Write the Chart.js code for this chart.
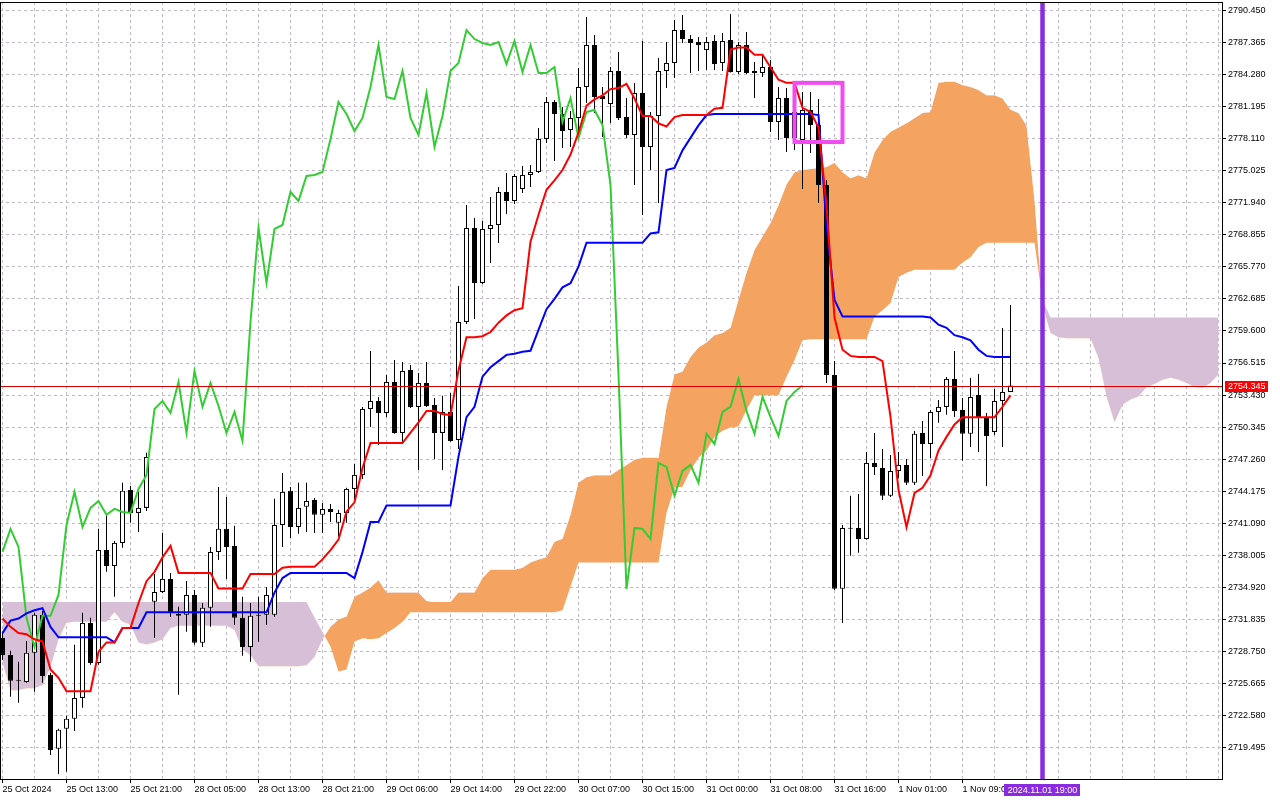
<!DOCTYPE html>
<html>
<head>
<meta charset="utf-8">
<title>XAUUSD H1 Ichimoku</title>
<script src="https://cdn.jsdelivr.net/npm/chart.js@4.4.1/dist/chart.umd.min.js"></script>
<style>
  html, body { margin: 0; padding: 0; background: #ffffff; overflow: hidden; }
  canvas { display: block; }
</style>
</head>
<body>
<canvas id="ichimokuChart" width="1280" height="800"></canvas>
<script>
// --- 1. DATA (H1 bars, index 0 = 25 Oct 05:00) ---
const opens = [
  2730.04, 2728.40, 2726.00, 2725.80, 2728.60, 2732.26, 2726.48, 2719.35, 2721.28, 2722.24,
  2724.26, 2731.48, 2727.63, 2738.51, 2736.97, 2739.19, 2744.29, 2742.08, 2742.56, 2733.51,
  2734.47, 2735.72, 2732.35, 2732.26, 2734.18, 2729.56, 2732.93, 2738.32, 2740.54, 2738.90,
  2731.97, 2729.17, 2732.26, 2732.26, 2732.26, 2740.92, 2744.20, 2740.73, 2742.66, 2743.33,
  2741.89, 2742.46, 2741.12, 2742.08, 2744.39, 2745.74, 2752.09, 2752.86, 2751.71, 2754.69,
  2749.78, 2755.85, 2752.29, 2754.60, 2752.48, 2749.78, 2751.80, 2749.11, 2760.47, 2769.52,
  2764.23, 2769.43, 2769.81, 2772.99, 2772.12, 2773.28, 2774.63, 2774.92, 2778.09, 2781.66,
  2780.50, 2778.96, 2780.12, 2783.10, 2787.15, 2782.24, 2781.46, 2784.64, 2780.21, 2778.48,
  2782.52, 2777.32, 2780.31, 2784.64, 2785.41, 2788.59, 2787.72, 2787.44, 2786.66, 2787.53,
  2785.41, 2787.63, 2784.55, 2787.15, 2784.64, 2784.45, 2785.03, 2779.73, 2782.04, 2778.19,
  2778.00, 2780.89, 2779.44, 2773.66, 2755.37, 2734.76, 2740.63, 2740.63, 2739.57, 2746.89,
  2746.41, 2743.72, 2746.12, 2746.70, 2744.97, 2749.78, 2748.72, 2751.80, 2752.29, 2754.98,
  2752.00, 2749.69, 2753.44, 2751.32, 2749.88, 2752.86, 2753.73
];
const highs = [
  2730.62, 2728.79, 2727.73, 2729.75, 2732.45, 2732.64, 2726.67, 2721.28, 2722.53, 2729.37,
  2732.45, 2731.97, 2740.54, 2741.89, 2739.38, 2744.97, 2744.68, 2744.10, 2747.86, 2736.20,
  2740.15, 2736.30, 2733.03, 2735.53, 2734.66, 2733.41, 2738.80, 2744.58, 2743.62, 2740.83,
  2733.99, 2733.41, 2733.99, 2734.95, 2743.43, 2745.93, 2744.58, 2744.97, 2744.97, 2743.52,
  2743.04, 2742.94, 2742.37, 2744.49, 2746.80, 2752.29, 2757.68, 2753.25, 2755.37, 2756.81,
  2756.62, 2756.33, 2755.56, 2756.62, 2753.15, 2753.35, 2753.63, 2763.94, 2771.74, 2770.49,
  2770.20, 2772.51, 2773.47, 2774.82, 2774.72, 2775.49, 2775.59, 2779.15, 2782.14, 2781.85,
  2781.18, 2780.79, 2784.93, 2789.84, 2788.11, 2783.10, 2785.03, 2786.47, 2782.04, 2783.49,
  2787.53, 2780.69, 2785.89, 2787.44, 2789.55, 2790.04, 2788.11, 2787.92, 2787.92, 2788.11,
  2788.30, 2790.13, 2787.44, 2788.40, 2785.51, 2786.18, 2785.70, 2783.10, 2783.01, 2781.85,
  2782.62, 2782.62, 2781.95, 2774.15, 2756.72, 2740.92, 2743.72, 2743.91, 2747.95, 2749.78,
  2748.24, 2747.66, 2747.95, 2747.28, 2749.97, 2750.94, 2752.00, 2752.96, 2755.17, 2757.68,
  2753.15, 2755.08, 2755.46, 2751.71, 2754.02, 2759.89, 2762.11
];
const lows = [
  2727.92, 2724.36, 2723.78, 2725.71, 2724.84, 2725.71, 2718.77, 2716.94, 2717.14, 2721.08,
  2723.30, 2727.44, 2727.44, 2736.40, 2733.99, 2738.71, 2741.12, 2740.25, 2742.27, 2730.04,
  2734.37, 2732.06, 2724.55, 2730.62, 2729.37, 2729.17, 2731.10, 2737.55, 2735.72, 2731.29,
  2728.31, 2727.73, 2729.66, 2731.29, 2732.06, 2738.80, 2739.67, 2740.06, 2740.25, 2740.15,
  2740.15, 2741.21, 2739.77, 2741.12, 2743.33, 2745.35, 2750.36, 2748.63, 2751.32, 2749.69,
  2748.92, 2752.19, 2746.22, 2752.29, 2747.28, 2746.22, 2748.92, 2748.24, 2760.28, 2760.76,
  2764.13, 2766.15, 2768.08, 2770.87, 2771.83, 2772.89, 2773.47, 2774.82, 2777.71, 2775.98,
  2777.23, 2777.32, 2778.48, 2781.56, 2780.60, 2778.29, 2779.64, 2779.92, 2778.19, 2773.66,
  2770.78, 2775.11, 2771.93, 2783.01, 2783.97, 2787.34, 2784.45, 2784.64, 2784.74, 2784.74,
  2784.64, 2784.50, 2784.35, 2784.35, 2782.04, 2784.06, 2778.77, 2778.00, 2776.84, 2777.03,
  2773.28, 2776.75, 2771.93, 2754.60, 2734.66, 2731.48, 2737.94, 2738.23, 2739.48, 2745.74,
  2743.33, 2743.62, 2745.45, 2744.77, 2744.77, 2745.64, 2747.37, 2750.75, 2751.52, 2751.32,
  2747.09, 2748.43, 2747.95, 2744.68, 2749.59, 2748.43, 2753.73
];
const closes = [
  2728.40, 2725.90, 2725.90, 2728.60, 2732.26, 2726.38, 2719.25, 2721.18, 2722.24, 2724.26,
  2731.48, 2727.63, 2738.51, 2736.97, 2739.19, 2744.20, 2742.08, 2742.56, 2747.47, 2734.47,
  2735.72, 2732.45, 2732.16, 2734.18, 2729.56, 2732.93, 2738.32, 2740.54, 2738.80, 2731.97,
  2729.17, 2732.16, 2732.16, 2734.18, 2740.92, 2744.10, 2740.73, 2742.56, 2743.23, 2741.89,
  2742.46, 2742.17, 2742.08, 2744.39, 2745.74, 2752.09, 2752.86, 2751.71, 2754.69, 2749.78,
  2755.75, 2752.29, 2754.60, 2752.38, 2749.78, 2751.80, 2749.01, 2760.47, 2769.52, 2764.23,
  2769.43, 2769.81, 2772.99, 2772.12, 2774.53, 2774.63, 2774.92, 2778.09, 2781.66, 2780.50,
  2778.86, 2780.12, 2783.10, 2787.15, 2782.14, 2781.95, 2784.64, 2780.12, 2778.48, 2782.52,
  2777.32, 2780.31, 2784.64, 2785.41, 2788.59, 2787.72, 2787.34, 2787.15, 2787.44, 2785.32,
  2787.53, 2784.55, 2787.15, 2784.45, 2784.45, 2785.03, 2779.73, 2782.04, 2778.19, 2780.69,
  2780.89, 2779.44, 2773.66, 2755.37, 2734.76, 2740.63, 2740.54, 2739.57, 2746.89, 2746.51,
  2743.72, 2746.12, 2746.70, 2744.97, 2749.69, 2748.72, 2751.80, 2752.29, 2754.98, 2751.90,
  2749.69, 2753.25, 2751.32, 2749.49, 2752.86, 2753.73, 2754.35
];

// Tenkan-sen (red)
const tenkan = [
  2731.9, 2731.1, 2730.5, 2730.4, 2729.9, 2729.7, 2727.0, 2726.2, 2724.9, 2724.9,
  2724.9, 2724.9, 2728.7, 2729.6, 2729.6, 2731.0, 2731.0, 2733.4, 2735.5, 2736.4,
  2737.8, 2738.9, 2736.3, 2736.3, 2736.3, 2736.3, 2736.3, 2734.8, 2734.8, 2734.8,
  2734.8, 2736.2, 2736.2, 2736.2, 2736.2, 2736.8, 2736.9, 2736.9, 2736.9, 2736.9,
  2737.6, 2738.5, 2739.5, 2742.2, 2743.1, 2746.4, 2748.8, 2748.8, 2748.8, 2748.8,
  2748.8, 2749.8, 2750.8, 2751.9, 2751.9, 2751.6, 2751.5, 2755.8, 2759.0, 2759.0,
  2759.1, 2759.5, 2760.4, 2761.1, 2761.6, 2761.8, 2768.2, 2770.8, 2773.2, 2774.1,
  2775.1, 2776.6, 2778.7, 2781.3, 2781.9, 2782.3, 2782.9, 2783.0, 2783.4, 2782.0,
  2780.3, 2780.3, 2779.6, 2779.3, 2780.2, 2780.4, 2780.4, 2780.4, 2780.4, 2781.0,
  2781.1, 2786.7, 2786.9, 2786.9, 2786.2, 2786.2, 2785.0, 2783.8, 2783.5, 2783.5,
  2781.1, 2780.7, 2779.2, 2771.7, 2760.9, 2757.8, 2757.2, 2757.1, 2757.1, 2757.1,
  2756.7, 2751.3, 2744.3, 2740.7, 2744.0, 2744.5, 2745.7, 2748.1, 2749.4, 2750.6,
  2751.3, 2751.3, 2751.3, 2751.3, 2751.3, 2752.3, 2753.4
];

// Kijun-sen (blue)
const kijun = [
  2730.5, 2731.7, 2731.9, 2732.4, 2732.7, 2732.9, 2731.1, 2730.1, 2730.1, 2730.1,
  2730.1, 2730.1, 2730.1, 2730.1, 2729.6, 2731.0, 2731.0, 2731.0, 2732.5, 2732.5,
  2732.5, 2732.5, 2732.5, 2732.5, 2732.5, 2732.5, 2732.5, 2732.5, 2732.5, 2732.5,
  2732.5, 2732.5, 2732.5, 2732.5, 2734.4, 2735.8, 2736.3, 2736.3, 2736.3, 2736.3,
  2736.3, 2736.3, 2736.3, 2736.3, 2735.8, 2738.3, 2741.2, 2741.2, 2742.8, 2742.8,
  2742.8, 2742.8, 2742.8, 2742.8, 2742.8, 2742.8, 2742.8, 2747.5, 2751.3, 2752.3,
  2755.2, 2756.1, 2756.7, 2757.3, 2757.4, 2757.6, 2757.7, 2759.7, 2761.7, 2762.7,
  2763.8, 2764.2, 2765.8, 2768.1, 2768.1, 2768.1, 2768.1, 2768.1, 2768.1, 2768.1,
  2768.1, 2769.0, 2769.1, 2775.1, 2775.3, 2777.0, 2778.2, 2779.4, 2780.4, 2780.5,
  2780.5, 2780.5, 2780.5, 2780.5, 2780.5, 2780.5, 2780.5, 2780.5, 2780.5, 2780.5,
  2780.5, 2780.5, 2780.4, 2769.8, 2762.6, 2761.0, 2761.0, 2761.0, 2761.0, 2761.0,
  2761.0, 2761.0, 2761.0, 2761.0, 2761.0, 2761.0, 2760.9, 2760.2, 2759.9, 2759.2,
  2759.0, 2758.7, 2757.8, 2757.2, 2757.1, 2757.1, 2757.1
];

// Chikou span (green), plotted from bar 0 to bar 100
const chikou = [
  2738.32, 2740.54, 2738.80, 2731.97, 2729.17, 2732.16, 2732.16, 2734.18, 2740.92, 2744.10,
  2740.73, 2742.56, 2743.23, 2741.89, 2742.46, 2742.17, 2742.08, 2744.39, 2745.74, 2752.09,
  2752.86, 2751.71, 2754.69, 2749.78, 2755.75, 2752.29, 2754.60, 2752.38, 2749.78, 2751.80,
  2749.01, 2760.47, 2769.52, 2764.23, 2769.43, 2769.81, 2772.99, 2772.12, 2774.53, 2774.63,
  2774.92, 2778.09, 2781.66, 2780.50, 2778.86, 2780.12, 2783.10, 2787.15, 2782.14, 2781.95,
  2784.64, 2780.12, 2778.48, 2782.52, 2777.32, 2780.31, 2784.64, 2785.41, 2788.59, 2787.72,
  2787.34, 2787.15, 2787.44, 2785.32, 2787.53, 2784.55, 2787.15, 2784.45, 2784.45, 2785.03,
  2779.73, 2782.04, 2778.19, 2780.69, 2780.89, 2779.44, 2773.66, 2755.37, 2734.76, 2740.63,
  2740.54, 2739.57, 2746.89, 2746.51, 2743.72, 2746.12, 2746.70, 2744.97, 2749.69, 2748.72,
  2751.80, 2752.29, 2754.98, 2751.90, 2749.69, 2753.25, 2751.32, 2749.49, 2752.86, 2753.73,
  2754.35
];

// Senkou span A / B, bars 0..152 (runs 26 bars past the last candle)
const spanA = [
  2727.7, 2725.0, 2725.0, 2725.2, 2725.2, 2725.5, 2727.2, 2729.9, 2731.5, 2731.6,
  2731.6, 2731.6, 2731.6, 2731.6, 2732.5, 2731.6, 2731.3, 2729.6, 2729.4, 2729.6,
  2729.9, 2731.0, 2731.2, 2731.2, 2731.2, 2731.2, 2731.2, 2731.2, 2731.2, 2730.8,
  2728.9, 2728.4, 2727.3, 2727.3, 2727.3, 2727.3, 2727.3, 2727.3, 2727.4, 2728.2,
  2729.9, 2731.1, 2731.8, 2732.1, 2734.0, 2734.4, 2734.9, 2735.6, 2734.4, 2734.4,
  2734.4, 2734.4, 2734.4, 2733.6, 2733.5, 2733.5, 2733.5, 2734.4, 2734.4, 2734.4,
  2735.8, 2736.6, 2736.6, 2736.6, 2736.6, 2736.8, 2737.3, 2737.6, 2737.8, 2739.3,
  2739.6, 2741.9, 2745.0, 2745.5, 2745.7, 2745.7, 2745.7, 2746.2, 2746.7, 2747.2,
  2747.4, 2747.4, 2747.4, 2752.3, 2755.4, 2755.7, 2757.1, 2758.0, 2758.5, 2759.2,
  2759.4, 2759.9, 2762.6, 2765.2, 2767.4, 2768.7, 2770.0, 2771.7, 2773.7, 2774.9,
  2775.1, 2775.2, 2775.3, 2775.4, 2775.8, 2774.9, 2774.3, 2774.6, 2774.3, 2776.8,
  2778.0, 2778.8, 2779.2, 2779.6, 2780.1, 2780.6, 2780.7, 2783.5, 2783.6, 2783.6,
  2783.3, 2783.1, 2782.8, 2782.3, 2782.3, 2782.0, 2780.9, 2780.6, 2779.4, 2772.2,
  2762.1, 2759.4, 2759.0, 2758.9, 2758.9, 2758.9, 2758.9, 2757.0, 2753.3, 2750.8,
  2752.5, 2753.0, 2753.3, 2754.2, 2754.5, 2754.9, 2755.1, 2754.9, 2754.6, 2754.2,
  2754.1, 2754.6, 2755.4
];
const spanB = [
  2733.5, 2733.5, 2733.5, 2733.5, 2733.5, 2733.5, 2733.5, 2733.5, 2733.5, 2733.5,
  2733.5, 2733.5, 2733.5, 2733.5, 2733.5, 2733.5, 2733.5, 2733.5, 2733.5, 2733.5,
  2733.5, 2733.5, 2733.5, 2733.5, 2733.5, 2733.5, 2733.5, 2733.5, 2733.5, 2733.5,
  2733.5, 2733.5, 2733.5, 2733.5, 2733.5, 2733.5, 2733.5, 2733.5, 2733.5, 2732.0,
  2730.6, 2729.2, 2726.8, 2727.0, 2729.7, 2730.0, 2729.9, 2730.0, 2730.5, 2731.0,
  2731.6, 2732.5, 2732.5, 2732.5, 2732.5, 2732.5, 2732.5, 2732.5, 2732.5, 2732.5,
  2732.5, 2732.5, 2732.5, 2732.5, 2732.5, 2732.5, 2732.5, 2732.5, 2732.5, 2732.5,
  2732.7, 2735.0, 2737.3, 2737.3, 2737.3, 2737.3, 2737.3, 2737.3, 2737.3, 2737.3,
  2737.3, 2737.3, 2737.3, 2742.1, 2744.5, 2744.6, 2746.2, 2747.4, 2748.1, 2749.4,
  2750.0, 2750.3, 2750.4, 2752.0, 2753.4, 2753.4, 2753.4, 2753.4, 2755.2, 2756.8,
  2758.7, 2758.8, 2758.8, 2758.8, 2758.8, 2758.8, 2758.8, 2758.8, 2758.8, 2761.0,
  2761.6, 2762.3, 2764.8, 2765.2, 2765.5, 2765.5, 2765.5, 2765.5, 2765.5, 2765.5,
  2766.2, 2766.7, 2767.7, 2768.1, 2768.1, 2768.1, 2768.1, 2768.1, 2768.1, 2768.1,
  2762.6, 2760.9, 2760.9, 2760.9, 2760.9, 2760.9, 2760.9, 2760.9, 2760.9, 2760.9,
  2760.9, 2760.9, 2760.9, 2760.9, 2760.9, 2760.9, 2760.9, 2760.9, 2760.9, 2760.9,
  2760.9, 2760.9, 2760.9
];

// axis labels
const timeLabels = [
  '25 Oct 2024', '25 Oct 13:00', '25 Oct 21:00', '28 Oct 05:00', '28 Oct 13:00', '28 Oct 21:00',
  '29 Oct 06:00', '29 Oct 14:00', '29 Oct 22:00', '30 Oct 07:00', '30 Oct 15:00', '31 Oct 00:00',
  '31 Oct 08:00', '31 Oct 16:00', '1 Nov 01:00', '1 Nov 09:00'
];
const priceTicks = [
  2790.450, 2787.365, 2784.280, 2781.195, 2778.110, 2775.025, 2771.940, 2768.855,
  2765.770, 2762.685, 2759.600, 2756.515, 2753.430, 2750.345, 2747.260, 2744.175,
  2741.090, 2738.005, 2734.920, 2731.835, 2728.750, 2725.665, 2722.580, 2719.495
];

// chart objects
const lastPrice = 2754.345;
const markerBar = 130;
const markerLabel = '2024.11.01 19:00';
const boxBars = [99, 105];
const boxPrices = [2783.5, 2777.8];

// --- 2. LAYOUT CONSTANTS ---
const BAR_STEP = 8;                 // px per bar
const PLOT_W = 1222;
const X_MIN = -2.5 / BAR_STEP;
const X_MAX = X_MIN + PLOT_W / BAR_STEP;
const Y_MAX = 2791.288;
const Y_MIN = 2716.447;
const FONT = { family: "'Liberation Sans', Arial, sans-serif", size: 9 };
const GRID = '#c2b8c9';
const THISTLE = '#d8bfd8';
const SANDY = '#f4a460';

const gridBars = [];
for (let b = 0; b <= 152; b += 4) gridBars.push(b);

function labelFor(v) {
  if (v % 8 !== 0) return '';
  const idx = v / 8;
  return idx < timeLabels.length ? timeLabels[idx] : '';
}

const toXY = arr => arr.map((v, i) => ({ x: i, y: v }));
const bodyData = opens.map((o, i) => ({ x: i, y: [o, closes[i]] }));
const wickData = lows.map((l, i) => ({ x: i, y: [l, highs[i]] }));
const bodyColors = opens.map((o, i) => (closes[i] > o ? '#ffffff' : '#000000'));

// --- 3. OVERLAY PLUGIN (bid line, box, marker, frame, axis tags) ---
const overlay = {
  id: 'overlay',
  afterDatasetsDraw(chart) {
    const { ctx, chartArea: a, scales: { x, y } } = chart;
    ctx.save();

    // bid line
    const py = Math.round(y.getPixelForValue(lastPrice)) + 0.5;
    ctx.strokeStyle = '#d40000';
    ctx.lineWidth = 1;
    ctx.beginPath();
    ctx.moveTo(a.left, py);
    ctx.lineTo(a.right, py);
    ctx.stroke();

    // magenta rectangle
    const bx1 = x.getPixelForValue(boxBars[0]);
    const bx2 = x.getPixelForValue(boxBars[1]);
    const by1 = y.getPixelForValue(boxPrices[0]);
    const by2 = y.getPixelForValue(boxPrices[1]);
    ctx.strokeStyle = '#f04cf0';
    ctx.lineWidth = 4;
    ctx.strokeRect(bx1, by1, bx2 - bx1, by2 - by1);

    // vertical marker
    const mx = x.getPixelForValue(markerBar);
    ctx.fillStyle = '#8a2be2';
    ctx.fillRect(mx - 2.25, a.top, 4.5, a.bottom - a.top);
    ctx.restore();
  },
  afterDraw(chart) {
    const { ctx, chartArea: a, scales: { x, y } } = chart;
    ctx.save();
    ctx.strokeStyle = '#000000';
    ctx.lineWidth = 1;
    ctx.strokeRect(a.left + 0.5, a.top + 0.5, a.right - a.left, a.bottom - a.top);

    ctx.font = FONT.size + 'px ' + FONT.family;
    ctx.textBaseline = 'middle';

    // price tag
    const py = Math.round(y.getPixelForValue(lastPrice)) + 0.5;
    ctx.fillStyle = '#ff0000';
    ctx.fillRect(a.right + 3, py - 5.5, 43, 11);
    ctx.fillStyle = '#ffffff';
    ctx.textAlign = 'left';
    ctx.fillText(lastPrice.toFixed(3), a.right + 6, py + 0.5);

    // time tag
    const mx = x.getPixelForValue(markerBar);
    const tw = ctx.measureText(markerLabel).width + 7;
    ctx.fillStyle = '#8a2be2';
    ctx.fillRect(Math.round(mx - tw / 2), a.bottom + 5, Math.round(tw), 12);
    ctx.fillStyle = '#ffffff';
    ctx.textAlign = 'center';
    ctx.fillText(markerLabel, mx, a.bottom + 11.5);
    ctx.restore();
  }
};

// --- 4. CHART ---
new Chart(document.getElementById('ichimokuChart'), {
  type: 'bar',
  data: {
    datasets: [
      { type: 'line', label: 'Senkou Span A', data: toXY(spanA), borderColor: 'rgba(0,0,0,0)',
        borderWidth: 1, pointRadius: 0, fill: false, order: 10 },
      { type: 'line', label: 'Senkou Span B', data: toXY(spanB), borderColor: 'rgba(0,0,0,0)',
        borderWidth: 1, pointRadius: 0, fill: { target: '-1', above: THISTLE, below: SANDY }, order: 9 },
      { type: 'bar', label: 'Wick', data: wickData, backgroundColor: '#000000', borderWidth: 0,
        barThickness: 1, grouped: false, inflateAmount: 0, order: 8 },
      { type: 'bar', label: 'Body', data: bodyData, backgroundColor: bodyColors, borderColor: '#000000',
        borderWidth: 1, borderSkipped: false, barThickness: 5, minBarLength: 1, grouped: false,
        inflateAmount: 0, order: 7 },
      { type: 'line', label: 'Chikou Span', data: toXY(chikou), borderColor: '#32cd32', borderWidth: 2,
        pointRadius: 0, tension: 0, fill: false, order: 3 },
      { type: 'line', label: 'Kijun-sen', data: toXY(kijun), borderColor: '#0000ff', borderWidth: 2,
        pointRadius: 0, tension: 0, fill: false, order: 2 },
      { type: 'line', label: 'Tenkan-sen', data: toXY(tenkan), borderColor: '#ff0000', borderWidth: 2,
        pointRadius: 0, tension: 0, fill: false, order: 1 }
    ]
  },
  options: {
    responsive: false,
    animation: false,
    devicePixelRatio: 1,
    events: [],
    layout: { padding: { top: 2, left: 0, right: 0, bottom: 0 } },
    plugins: {
      legend: { display: false },
      tooltip: { enabled: false },
      filler: { drawTime: 'beforeDatasetsDraw' }
    },
    scales: {
      x: {
        type: 'linear',
        min: X_MIN,
        max: X_MAX,
        offset: false,
        grid: {
          offset: false,
          color: GRID,
          lineWidth: 1,
          drawTicks: true,
          tickLength: 4,
          tickWidth: 1,
          tickBorderDash: [],
          tickColor: c => (c.tick && labelFor(c.tick.value) ? '#000000' : 'rgba(0,0,0,0)')
        },
        border: { display: false, dash: [3, 3] },
        ticks: {
          autoSkip: false, maxRotation: 0, minRotation: 0, align: 'start',
          padding: 1, color: '#000000', font: FONT,
          callback: v => labelFor(v)
        },
        afterBuildTicks: s => { s.ticks = gridBars.map(v => ({ value: v })); },
        afterFit: s => {
          s.height = 21;
          s.paddingLeft = 0; s.paddingRight = 0; s.paddingTop = 0; s.paddingBottom = 0;
        }
      },
      y: {
        position: 'right',
        min: Y_MIN,
        max: Y_MAX,
        beginAtZero: false,
        grid: {
          color: GRID,
          lineWidth: 1,
          drawTicks: true,
          tickLength: 4,
          tickWidth: 1,
          tickBorderDash: [],
          tickColor: '#000000'
        },
        border: { display: false, dash: [3, 3] },
        ticks: {
          autoSkip: false, padding: 2, color: '#000000', font: FONT,
          callback: v => Number(v).toFixed(3)
        },
        afterBuildTicks: s => { s.ticks = priceTicks.map(v => ({ value: v })); },
        afterFit: s => {
          s.width = 58;
          s.paddingLeft = 0; s.paddingRight = 0; s.paddingTop = 0; s.paddingBottom = 0;
        }
      }
    }
  },
  plugins: [overlay]
});
</script>
</body>
</html>
